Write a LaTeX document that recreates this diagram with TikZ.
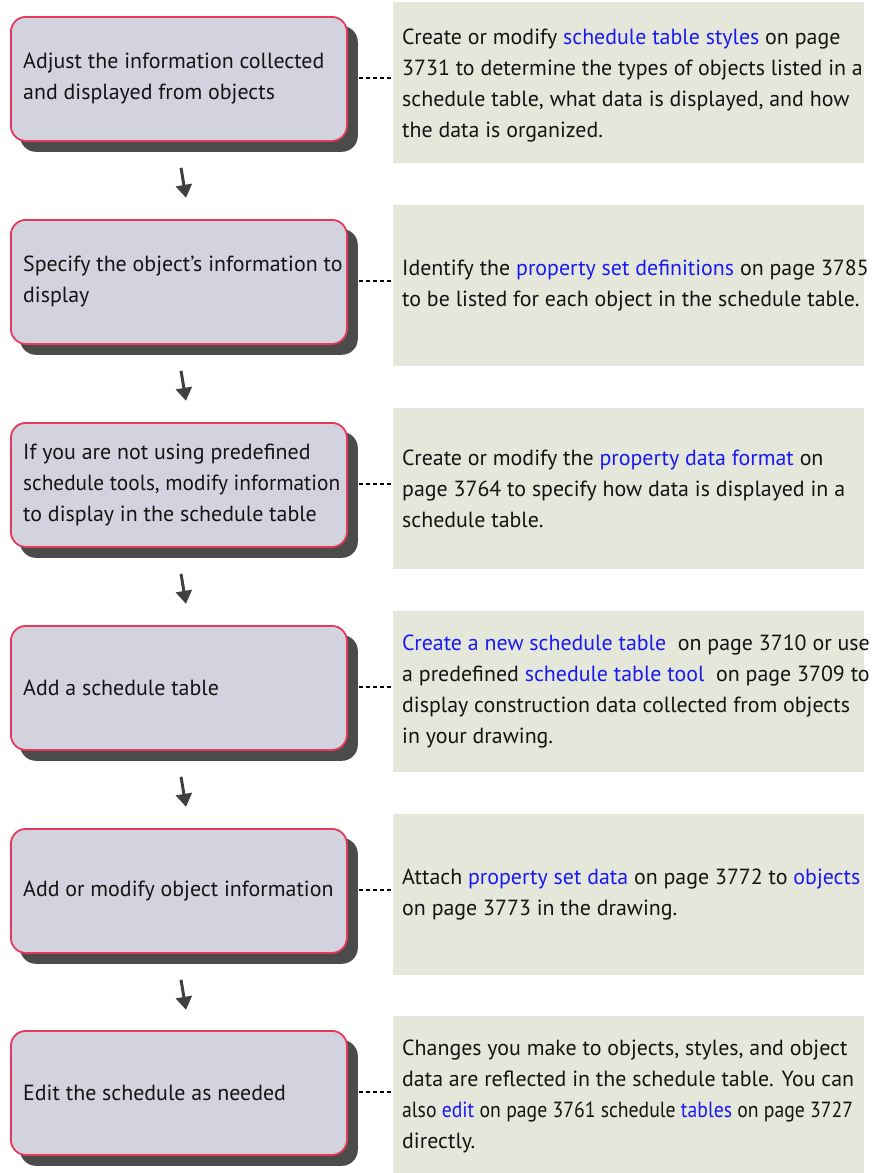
\documentclass[tikz,border=0pt]{standalone}
\usepackage{fontspec}
\setmainfont{PT Sans}
\usetikzlibrary{arrows.meta,shadows,calc}
\definecolor{boxfill}{HTML}{D3D3E0}
\definecolor{boxline}{HTML}{E63A5C}
\definecolor{shadowc}{HTML}{4B4B4B}
\definecolor{panelc}{HTML}{E4E7D9}
\definecolor{linkc}{HTML}{1A1AF0}
\definecolor{arrowc}{HTML}{404040}
\definecolor{textc}{HTML}{141414}
\newcommand{\lnk}[1]{\textcolor{linkc}{#1}}
\begin{document}
\begin{tikzpicture}[x=1pt,y=-1pt,
 stepbox/.style={draw=boxline, line width=1.8pt, fill=boxfill, rounded corners=15pt,
   minimum width=336pt, minimum height=124pt, anchor=north west, inner sep=0pt,
   general shadow={shadow xshift=10pt, shadow yshift=-10pt, draw=shadowc, fill=shadowc}},
 panel/.style={fill=panelc, minimum width=471pt, minimum height=161pt, anchor=north west, inner sep=0pt},
 lbl/.style={anchor=west, align=left, inner sep=0pt, font=\fontsize{21.9}{31}\selectfont, text=textc},
 conn/.style={dash pattern=on 4.6pt off 2.4pt, line width=1.6pt, black},
 flow/.style={line width=3pt, draw=arrowc, -{Triangle[width=16pt,length=13pt]}}
]
\useasboundingbox (0,0) rectangle (880,1173);

% panels
\node[panel] (p1) at (393,2) {};
\node[panel] (p2) at (393,205) {};
\node[panel] (p3) at (393,408) {};
\node[panel] (p4) at (393,611) {};
\node[panel] (p5) at (393,813.5) {};
\node[panel] (p6) at (393,1016) {};

% step boxes
\node[stepbox] (b1) at (10,16) {};
\node[stepbox] (b2) at (10,219) {};
\node[stepbox] (b3) at (10,422) {};
\node[stepbox] (b4) at (10,625) {};
\node[stepbox] (b5) at (10,828) {};
\node[stepbox] (b6) at (10,1030) {};

% step texts
\node[lbl] (t1) at ($(b1.west)+(13,0)$) {Adjust the information collected\\and displayed from objects};
\node[lbl] (t2) at ($(b2.west)+(13,0)$) {Specify the object’s information to\\display};
\node[lbl] (t3) at ($(b3.west)+(13,0)$) {If you are not using predefined\\\resizebox{317pt}{\height}{schedule tools, modify information}\\to display in the schedule table};
\node[lbl] (t4) at ($(b4.west)+(13,0)$) {Add a schedule table};
\node[lbl] (t5) at ($(b5.west)+(13,0)$) {Add or modify object information};
\node[lbl] (t6) at ($(b6.west)+(13,0)$) {Edit the schedule as needed};

% panel texts
\node[lbl] (q1) at ($(p1.west)+(9,3)$) {Create or modify \lnk{schedule table styles} on page\\3731 to determine the types of objects listed in a\\schedule table, what data is displayed, and how\\the data is organized.};
\node[lbl] (q2) at ($(p2.west)+(9,0)$) {Identify the \lnk{property set definitions} on page 3785\\to be listed for each object in the schedule table.};
\node[lbl] (q3) at ($(p3.west)+(9,0)$) {Create or modify the \lnk{property data format} on\\page 3764 to specify how data is displayed in a\\schedule table.};
\node[lbl] (q4) at ($(p4.west)+(9,0)$) {\lnk{Create a new schedule table}\ \ on page 3710 or use\\a predefined \lnk{schedule table tool}\ \ on page 3709 to\\display construction data collected from objects\\in your drawing.};
\node[lbl] (q5) at ($(p5.west)+(9,0)$) {Attach \lnk{property set data} on page 3772 to \lnk{objects}\\on page 3773 in the drawing.};
\node[lbl] (q6) at ($(p6.west)+(9,0)$) {Changes you make to objects, styles, and object\\data are reflected in the schedule table. You can\\\resizebox{451pt}{\height}{also \lnk{edit} on page 3761 schedule \lnk{tables} on page 3727}\\directly.};

% dashed connectors
\foreach \i in {1,...,6}{
  \draw[conn] ($(b\i.east)+(11,-1)$) -- ($(p\i.west|-b\i.east)+(0,-1)$);
}

% flow arrows
\foreach \i in {1,...,5}{
  \coordinate (a\i s) at ($(b\i.south west)+(171,26)$);
  \coordinate (a\i e) at ($(b\i.south west)+(176,56)$);
  \draw[flow] (a\i s) -- (a\i e);
}
\end{tikzpicture}
\end{document}
